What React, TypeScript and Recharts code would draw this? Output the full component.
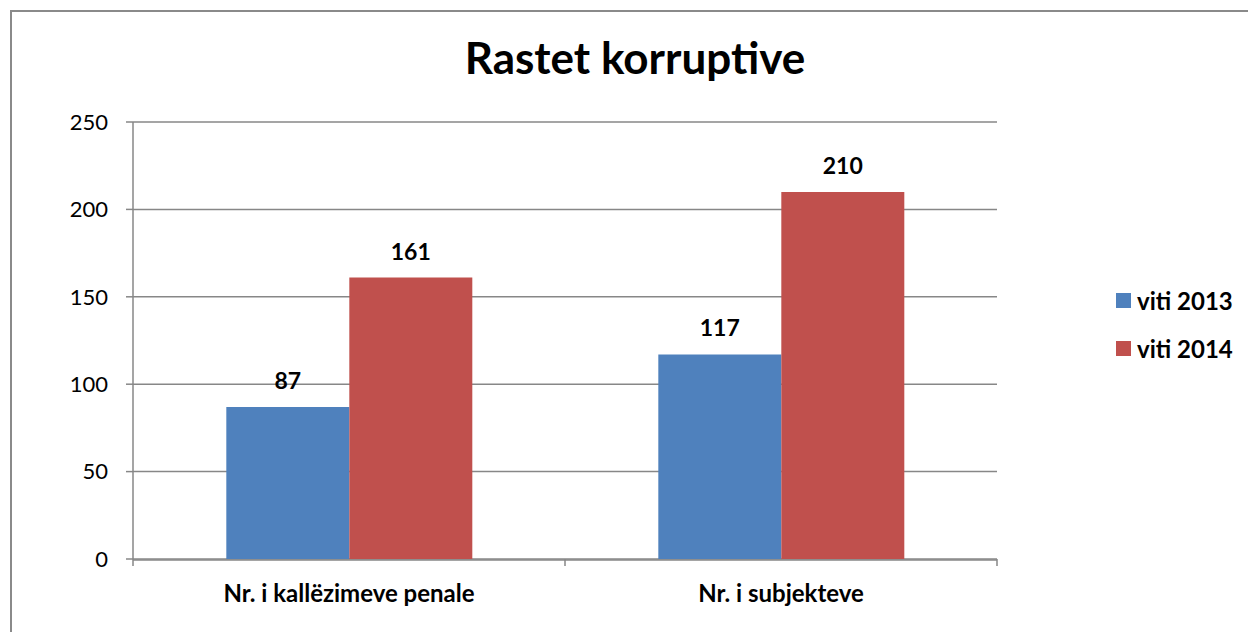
import React from 'react';
import { BarChart, Bar, XAxis, YAxis, CartesianGrid, LabelList } from 'recharts';

const categories = ['Nr. i kallëzimeve penale', 'Nr. i subjekteve'];
const viti2013 = [87, 117];
const viti2014 = [161, 210];
const yTicks = [0, 50, 100, 150, 200, 250];
const boundaryTicks = [0, 1, 2];
const seriesNames = ['viti 2013', 'viti 2014'];
const seriesColors = ['#4F81BD', '#C0504D'];

const data = categories.map((name, i) => ({ name, v2013: viti2013[i], v2014: viti2014[i], edge: i }));

const FONT = 'Lato, "Open Sans", sans-serif';

const LegendBox = () => (
  <div
    style={{
      position: 'absolute',
      left: 1116,
      top: 276,
      fontFamily: FONT,
      fontWeight: 700,
      fontSize: 24,
      color: '#000',
    }}
  >
    {seriesNames.map((label, i) => (
      <div key={label} style={{ display: 'flex', alignItems: 'center', height: 48 }}>
        <span style={{ width: 15, height: 15, background: seriesColors[i], marginRight: 6, display: 'inline-block' }} />
        <span>{label}</span>
      </div>
    ))}
  </div>
);

const App: React.FC = () => {
  return (
    <div style={{ position: 'fixed', left: 0, top: 0, width: 1248, height: 632, overflow: 'hidden', background: '#fff' }}>
      <div
        style={{
          position: 'absolute',
          left: 10,
          top: 10,
          width: 1260,
          height: 660,
          border: '2px solid #8a8a8a',
        }}
      />
      <div
        style={{
          position: 'absolute',
          left: 0,
          width: 1270,
          top: 31,
          textAlign: 'center',
          fontFamily: FONT,
          fontWeight: 700,
          fontSize: 44,
          color: '#000',
        }}
      >
        Rastet korruptive
      </div>
      <div style={{ position: 'absolute', left: 0, top: 0 }}>
        <BarChart
          width={1248}
          height={632}
          data={data}
          margin={{ top: 122, right: 251, bottom: 42, left: 0 }}
          barCategoryGap="21.6%"
          barGap={0}
        >
          <CartesianGrid vertical={false} stroke="#878787" strokeWidth={1.5} />
          <XAxis
            xAxisId="b"
            dataKey="name"
            height={30}
            stroke="#878787"
            strokeWidth={1.5}
            tickLine={false}
            tickMargin={19}
            tick={{ fontFamily: FONT, fontWeight: 700, fontSize: 24, fill: '#000' }}
            interval={0}
          />
          {/* category boundary tick marks, like the original */}
          <XAxis
            xAxisId="a"
            dataKey="edge"
            type="number"
            domain={[0, 2]}
            allowDataOverflow
            ticks={boundaryTicks}
            height={1}
            axisLine={false}
            tickLine={{ stroke: '#878787', strokeWidth: 1.5 }}
            tickSize={7}
            tickFormatter={() => ''}
          />
          <YAxis
            width={133}
            domain={[0, 250]}
            ticks={yTicks}
            stroke="#878787"
            strokeWidth={1.5}
            tickSize={7}
            tickMargin={18}
            tick={{ fontFamily: FONT, fontSize: 22, fill: '#000' }}
          />
          <Bar xAxisId="b" dataKey="v2013" name={seriesNames[0]} fill={seriesColors[0]} isAnimationActive={false}>
            <LabelList
              dataKey="v2013"
              position="top"
              offset={18}
              style={{ fontFamily: FONT, fontWeight: 700, fontSize: 23, fill: '#000' }}
            />
          </Bar>
          <Bar xAxisId="b" dataKey="v2014" name={seriesNames[1]} fill={seriesColors[1]} isAnimationActive={false}>
            <LabelList
              dataKey="v2014"
              position="top"
              offset={18}
              style={{ fontFamily: FONT, fontWeight: 700, fontSize: 23, fill: '#000' }}
            />
          </Bar>
        </BarChart>
      </div>
      <LegendBox />
    </div>
  );
};

export default App;
